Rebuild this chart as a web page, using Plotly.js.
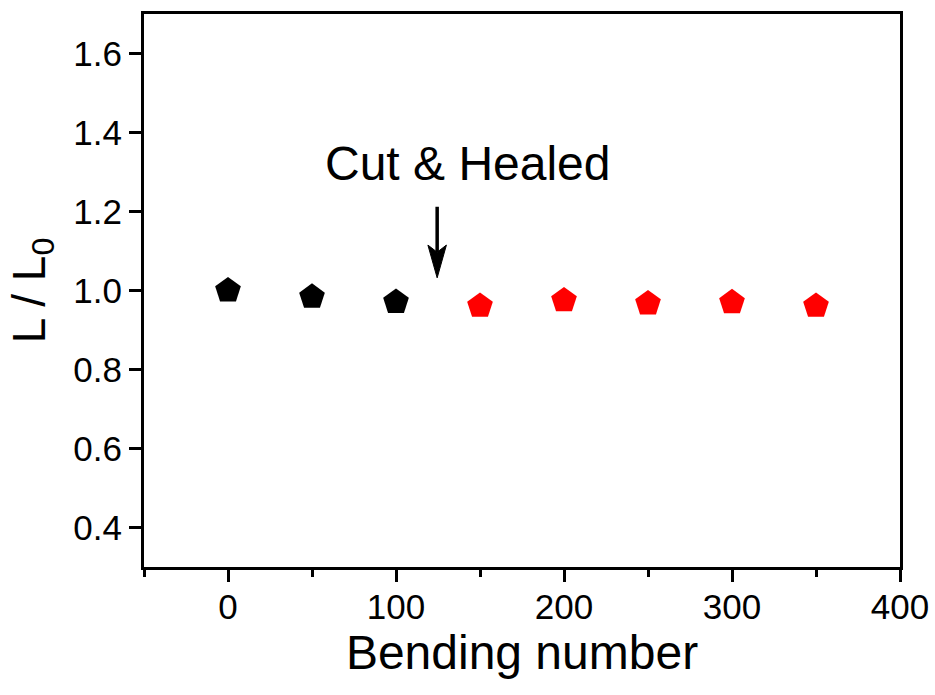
<!DOCTYPE html>
<html>
<head>
<meta charset="utf-8">
<script src="https://cdn.plot.ly/plotly-3.0.1.min.js"></script>
<style>html,body{margin:0;padding:0;background:#fff;}#chart{width:935px;height:695px;}</style>
</head>
<body>
<div id="chart"></div>
<script>
// Data
const bendingBefore = [0, 50, 100];
const ratioBefore = [1.0, 0.984, 0.971];
const bendingAfter = [150, 200, 250, 300, 350];
const ratioAfter = [0.961, 0.975, 0.967, 0.970, 0.961];
const annotationText = "Cut & Healed";
const xTitle = "Bending number";
const yTitle = "L / L<sub>0</sub>";

// Arrow (annotation) position, in data units
const arrowX = 124.5;
const arrowTail = 1.212;
const arrowTip = 1.032;

const FONT = "Liberation Sans, Arial, sans-serif";
const NARROW = "Liberation Sans Narrow, Arial Narrow, Liberation Sans, sans-serif";

const traces = [
  {
    x: bendingBefore, y: ratioBefore, type: "scatter", mode: "markers",
    marker: {symbol: "pentagon", size: 27, color: "#000000", line: {width: 0}},
    showlegend: false, hoverinfo: "x+y"
  },
  {
    x: bendingAfter, y: ratioAfter, type: "scatter", mode: "markers",
    marker: {symbol: "pentagon", size: 27, color: "#ff0000", line: {width: 0}},
    showlegend: false, hoverinfo: "x+y"
  }
];

const headLen = 0.083, headHalf = 5.5, notch = 0.018;
const layout = {
  width: 935, height: 695,
  margin: {l: 144, r: 35, t: 14, b: 128},
  paper_bgcolor: "#ffffff", plot_bgcolor: "#ffffff",
  font: {family: FONT, color: "#000000", size: 35},
  xaxis: {
    range: [-50, 400], dtick: 100, tick0: 0,
    showgrid: false, zeroline: false,
    showline: true, linewidth: 3, linecolor: "#000", mirror: true,
    ticks: "outside", ticklen: 12, tickwidth: 3, tickcolor: "#000",
    minor: {dtick: 50, tick0: 0, ticks: "outside", ticklen: 7, tickwidth: 3, tickcolor: "#000", showgrid: false},
    tickfont: {family: NARROW, size: 35, color: "#000"},
    ticklabelstandoff: -5,
    title: {text: xTitle, font: {family: FONT, size: 48, color: "#000"}, standoff: 10}
  },
  yaxis: {
    range: [0.3, 1.7], dtick: 0.2, tick0: 0, tickformat: ".1f",
    showgrid: false, zeroline: false,
    showline: true, linewidth: 3, linecolor: "#000", mirror: true,
    ticks: "outside", ticklen: 12, tickwidth: 3, tickcolor: "#000",
    tickfont: {family: FONT, size: 35, color: "#000"},
    title: {text: yTitle, font: {family: FONT, size: 46, color: "#000"}, standoff: 14}
  },
  annotations: [
    {
      x: 143, y: 1.322, xref: "x", yref: "y",
      text: annotationText, showarrow: false,
      font: {family: FONT, size: 48, color: "#000"},
      xanchor: "center", yanchor: "middle"
    }
  ],
  shapes: [
    {
      type: "line", xref: "x", yref: "y",
      x0: arrowX, x1: arrowX, y0: arrowTail, y1: arrowTip + headLen - notch,
      line: {color: "#000", width: 3.5}
    },
    {
      type: "path", xref: "x", yref: "y",
      path: "M " + (arrowX - headHalf) + "," + (arrowTip + headLen) +
            " L " + arrowX + "," + arrowTip +
            " L " + (arrowX + headHalf) + "," + (arrowTip + headLen) +
            " L " + arrowX + "," + (arrowTip + headLen - notch) + " Z",
      fillcolor: "#000", line: {color: "#000", width: 1}
    }
  ]
};

Plotly.newPlot("chart", traces, layout, {displayModeBar: false, staticPlot: true});
</script>
</body>
</html>
